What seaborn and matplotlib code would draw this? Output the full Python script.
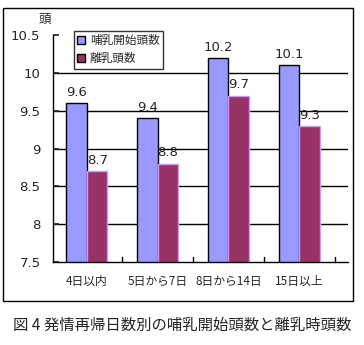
import matplotlib
matplotlib.use("Agg")
import matplotlib.pyplot as plt
import seaborn as sns
import pandas as pd
from matplotlib.patches import Rectangle

categories = ["4日以内", "5日から7日", "8日から14日", "15日以上"]
series_names = ["哺乳開始頭数", "離乳頭数"]
start_vals = [9.6, 9.4, 10.2, 10.1]
wean_vals = [8.7, 8.8, 9.7, 9.3]
yticks = [7.5, 8, 8.5, 9, 9.5, 10, 10.5]

sns.set_theme(style="white")
plt.rcParams['font.family'] = ['Noto Sans CJK JP', 'DejaVu Sans']

df = pd.DataFrame({
    "cat": categories * 2,
    "series": [series_names[0]] * 4 + [series_names[1]] * 4,
    "val": start_vals + wean_vals,
})

fig = plt.figure(figsize=(3.64, 3.45), dpi=100)
fig.patch.set_facecolor("white")
ax = fig.add_axes([53/364, 1-262/345, 295/364, 227/345])

palette = {series_names[0]: "#9999FF", series_names[1]: "#993366"}
sns.barplot(data=df, x="cat", y="val", hue="series", palette=palette,
            ax=ax, width=0.58, saturation=1, legend=True)

for i, bar in enumerate(ax.patches[:8]):
    if i < 4:
        bar.set_edgecolor("black")
    else:
        bar.set_edgecolor("#CC99FF")
    bar.set_linewidth(1.0)

ax.set_ylim(7.5, 10.5)
ax.set_yticks(yticks)
ax.set_yticklabels([f"{v:g}" for v in yticks], fontsize=9.5, family=['DejaVu Sans'])
for y in yticks[1:-1]:
    ax.axhline(y, color="black", lw=1, zorder=0)
ax.set_xlabel("")
ax.set_ylabel("")
ax.tick_params(axis="x", labelsize=8.5, pad=9, length=0)
ax.tick_params(axis="y", length=4, direction="in", pad=9, left=True)
for s in ["top", "right"]:
    ax.spines[s].set_visible(False)
ax.spines["left"].set_color("black")
ax.spines["bottom"].set_color("black")
ax.spines["left"].set_linewidth(1)
ax.spines["bottom"].set_linewidth(1)
for xb in [0.5, 1.5, 2.5, 3.5]:
    ax.plot([xb, xb], [7.5, 7.56], color="black", lw=1, clip_on=False)

for c in ax.containers:
    ax.bar_label(c, labels=[f"{v:g}" for v in c.datavalues], padding=3,
                 fontsize=9.5, family=['DejaVu Sans'])

leg = ax.legend(loc="upper left", bbox_to_anchor=(0.05, 1.045), fontsize=8.4,
                frameon=True, fancybox=False, handlelength=0.7, handleheight=0.7,
                borderpad=0.3, labelspacing=0.45, handletextpad=0.4)
leg.get_frame().set_edgecolor("black")
leg.get_frame().set_linewidth(1)
for h in leg.legend_handles:
    h.set_edgecolor("black")

fig.text(45/364, 1-19/345, "頭", fontsize=9, ha="center", va="center")
fig.patches.append(Rectangle((3/364, 1-301/345), 350/364, 293/345,
                             transform=fig.transFigure, fill=False,
                             edgecolor="black", lw=1))
fig.text(182/364, 1-325/345, "図 4 発情再帰日数別の哺乳開始頭数と離乳時頭数",
         fontsize=11.1, ha="center", va="center")

fig.savefig("out.png", dpi=100)
